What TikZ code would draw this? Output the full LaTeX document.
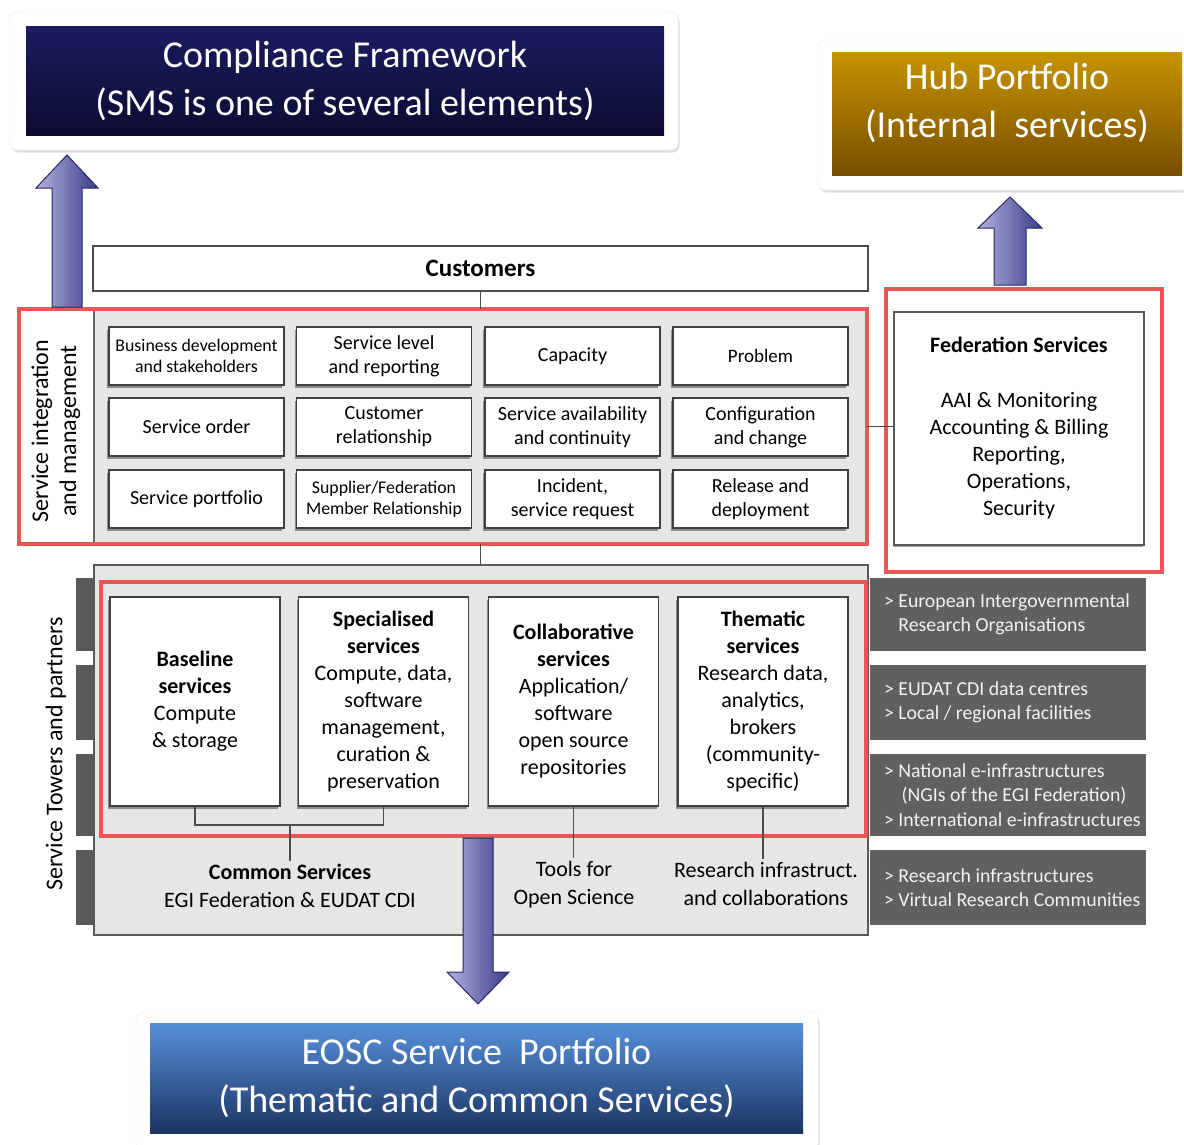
\documentclass[tikz,border=0pt]{standalone}
\usepackage{fontspec}
\setmainfont{Carlito}
\usepackage{tikz}
\usetikzlibrary{shadows}
\definecolor{navytop}{RGB}{28,28,96}
\definecolor{navybot}{RGB}{12,12,50}
\definecolor{hubtop}{RGB}{198,148,0}
\definecolor{hubbot}{RGB}{120,78,0}
\definecolor{eosctop}{RGB}{86,144,218}
\definecolor{eoscbot}{RGB}{28,52,98}
\definecolor{redline}{RGB}{234,86,86}
\definecolor{panel}{RGB}{230,230,230}
\definecolor{partner}{RGB}{96,96,96}
\definecolor{arrowlight}{RGB}{178,178,222}
\definecolor{arrowdark}{RGB}{58,58,138}
\definecolor{arrowedge}{RGB}{38,38,102}
\tikzset{
  outerbox/.style={draw=black!8, fill=white, rounded corners=7pt,
    drop shadow={opacity=0.25, shadow xshift=1.5pt, shadow yshift=-2.5pt}},
  banner/.style={text=white, align=center, inner sep=0pt, font=\fontsize{38}{48}\selectfont},
  procbox/.style={draw=black!75, line width=1.5pt, fill=white, minimum width=175pt,
    minimum height=58pt, inner sep=1pt, align=center, font=\fontsize{20}{24}\selectfont,
    drop shadow={shadow xshift=-2pt, shadow yshift=-2.5pt, fill=black!45, opacity=1}},
  procsmall/.style={procbox, font=\fontsize{17.8}{21}\selectfont},
  towerbox/.style={procbox, minimum width=170pt, minimum height=209pt,
    font=\fontsize{22}{27}\selectfont},
  redframe/.style={draw=redline, line width=3.5pt},
  partnerbox/.style={fill=partner, minimum width=276pt, inner sep=0pt},
  partnertext/.style={anchor=west, text=white!95!black, inner xsep=14pt, inner ysep=0pt,
    align=left, font=\fontsize{19.8}{24.5}\selectfont},
  tab/.style={fill=black!65, minimum width=18pt, inner sep=0pt},
  linkline/.style={draw=black!70, line width=1.2pt},
  fatarrow/.style={left color=arrowlight, right color=arrowdark, draw=arrowedge, line width=1pt},
  plain/.style={align=center, inner sep=3pt, font=\fontsize{22}{28}\selectfont}
}

\begin{document}
\begin{tikzpicture}[x=1pt, y=-1pt]
    \useasboundingbox (0,0) rectangle (1184,1144);
    \fill[white] (0,0) rectangle (1184,1144);
    \node [outerbox, minimum width=668pt, minimum height=138pt] (cfout) at (344, 81) {};
    \node [banner, top color=navytop, bottom color=navybot, minimum width=638pt, minimum height=109pt] (cf) at (345, 80.5) {Compliance Framework\\(SMS is one of several elements)};
    \node [outerbox, minimum width=372pt, minimum height=150pt] (hubout) at (1004, 115) {};
    \node [banner, top color=hubtop, bottom color=hubbot, minimum width=350pt, minimum height=123pt] (hub) at (1007, 113.5) {};
    \node [banner] (hubtext) at (1007, 103) {Hub Portfolio\\(Internal~~services)};
    \node [outerbox, minimum width=682pt, minimum height=138pt] (eoscout) at (477, 1081) {};
    \node [banner, top color=eosctop, bottom color=eoscbot, minimum width=653pt, minimum height=110pt] (eosc) at (476.5, 1078) {EOSC Service~~Portfolio\\(Thematic and Common Services)};
    \node [draw=black!70, line width=1.2pt, fill=white, minimum width=775pt, minimum height=45pt, font=\fontsize{25}{30}\selectfont\bfseries] (cust) at (480.5, 268.5) {Customers};
    \node [fill=white, minimum width=848pt, minimum height=235pt] (sim) at (443, 426.5) {};
    \fill[panel] (94, 311) rectangle (866, 543);
    \draw[black!60, line width=1.2pt] (94, 311) -- (94, 543);
    \node [rotate=90, align=center, inner sep=0pt, font=\fontsize{24}{28}\selectfont] (simlabel) at (56, 431) {Service integration\\and management};
    \node [procsmall] (bizdev) at (196.5, 356) {Business development\\and stakeholders};
    \node [procbox] (slevel) at (384, 356) {Service level\\and reporting};
    \node [procbox] (capac) at (572.5, 356) {Capacity};
    \node [procbox, font=\fontsize{19}{24}\selectfont] (problem) at (760.5, 356) {Problem};
    \node [procbox] (sorder) at (196.5, 427) {Service order};
    \node [procbox] (crel) at (384, 427) {Customer\\relationship};
    \node [procbox] (savail) at (572.5, 427) {Service availability\\and continuity};
    \node [procbox] (config) at (760.5, 427) {Configuration\\and change};
    \node [procbox] (sportf) at (196.5, 499) {Service portfolio};
    \node [procsmall] (supplier) at (384, 499) {Supplier/Federation\\Member Relationship};
    \node [procbox] (incident) at (572.5, 499) {Incident,\\service request};
    \node [procbox] (release) at (760.5, 499) {Release and\\deployment};
    \draw[redframe] (sim.south west) rectangle (sim.north east);
    \node [redframe, minimum width=276pt, minimum height=283pt] (fedred) at (1024, 430.5) {};
    \node [draw=black!65, line width=1.5pt, fill=white, minimum width=250pt, minimum height=233pt, align=center, font=\fontsize{22}{27}\selectfont, drop shadow={shadow xshift=-1.5pt, shadow yshift=-2pt, fill=black!35, opacity=1}] (fed) at (1019, 428.5) {\textbf{Federation Services}\\[28pt]AAI \& Monitoring\\Accounting \& Billing\\Reporting,\\Operations,\\Security};
    \draw[linkline] (sim.east) -- (sim.east -| fed.west);
    \draw[linkline] (cust.south) -- (cust.south |- sim.north);
    \node [draw=black!65, line width=1.5pt, fill=panel, minimum width=774pt, minimum height=370pt] (towers) at (481, 750) {};
    \draw[linkline] (cust.south |- sim.south) -- (cust.south |- towers.north);
    \node [tab, minimum height=73pt] (tab1) at (85, 614.5) {};
    \node [tab, minimum height=75pt] (tab2) at (85, 702.5) {};
    \node [tab, minimum height=82pt] (tab3) at (85, 795) {};
    \node [tab, minimum height=75pt] (tab4) at (85, 887.5) {};
    \node [rotate=90, inner sep=0pt, font=\fontsize{24}{28}\selectfont] (towlabel) at (56, 754) {Service Towers and partners};
    \node [partnerbox, minimum height=73pt] (part1) at (1008, 614.5) {};
    \node [partnerbox, minimum height=75pt] (part2) at (1008, 702.5) {};
    \node [partnerbox, minimum height=82pt] (part3) at (1008, 795) {};
    \node [partnerbox, minimum height=75pt] (part4) at (1008, 887.5) {};
    \node [partnertext] (part1txt) at (part1.west) {> European Intergovernmental\\\phantom{> }Research Organisations};
    \node [partnertext] (part2txt) at (part2.west) {> EUDAT CDI data centres\\> Local / regional facilities};
    \node [partnertext] (part3txt) at (part3.west) {> National e-infrastructures\\\phantom{> }\,(NGIs of the EGI Federation)\\> International e-infrastructures};
    \node [partnertext] (part4txt) at (part4.west) {> Research infrastructures\\> Virtual Research Communities};
    \node [towerbox] (base) at (195, 701.5) {\textbf{Baseline}\\\textbf{services}\\Compute\\\& storage};
    \node [towerbox] (spec) at (383.5, 701.5) {\textbf{Specialised}\\\textbf{services}\\Compute, data,\\software\\management,\\curation \&\\preservation};
    \node [towerbox] (collab) at (573.5, 701.5) {\textbf{Collaborative}\\\textbf{services}\\Application/\\software\\open source\\repositories};
    \node [towerbox] (thema) at (763, 701.5) {\textbf{Thematic}\\\textbf{services}\\Research data,\\analytics,\\brokers\\(community-\\specific)};
    \node [redframe, minimum width=765pt, minimum height=254pt] (towred) at (483.5, 709) {};
    \node [plain] (common) at (290, 886) {\textbf{Common Services}\\EGI Federation \& EUDAT CDI};
    \node [plain] (tools) at (574, 885) {Tools for\\Open Science};
    \node [plain] (resinf) at (766, 884) {Research infrastruct.\\and collaborations};
    \coordinate (brk) at (290, 825);
    \draw[linkline] (base.south) |- (brk) -| (spec.south);
    \draw[linkline] (brk) -- (common.north);
    \draw[linkline] (collab.south) -- (collab.south |- tools.north);
    \draw[linkline] (thema.south) -- (thema.south |- resinf.north);
    \draw[fatarrow] (52, 307) -- (52, 188) -- (36, 188) -- (67, 155) -- (98, 188) -- (82, 188) -- (82, 307) -- cycle;
    \draw[fatarrow] (994, 285) -- (994, 228) -- (978, 228) -- (1010, 197) -- (1042, 228) -- (1026, 228) -- (1026, 285) -- cycle;
    \draw[fatarrow] (463, 838) -- (463, 972) -- (447, 972) -- (478, 1004) -- (509, 972) -- (493, 972) -- (493, 838) -- cycle;
\end{tikzpicture}
\end{document}
